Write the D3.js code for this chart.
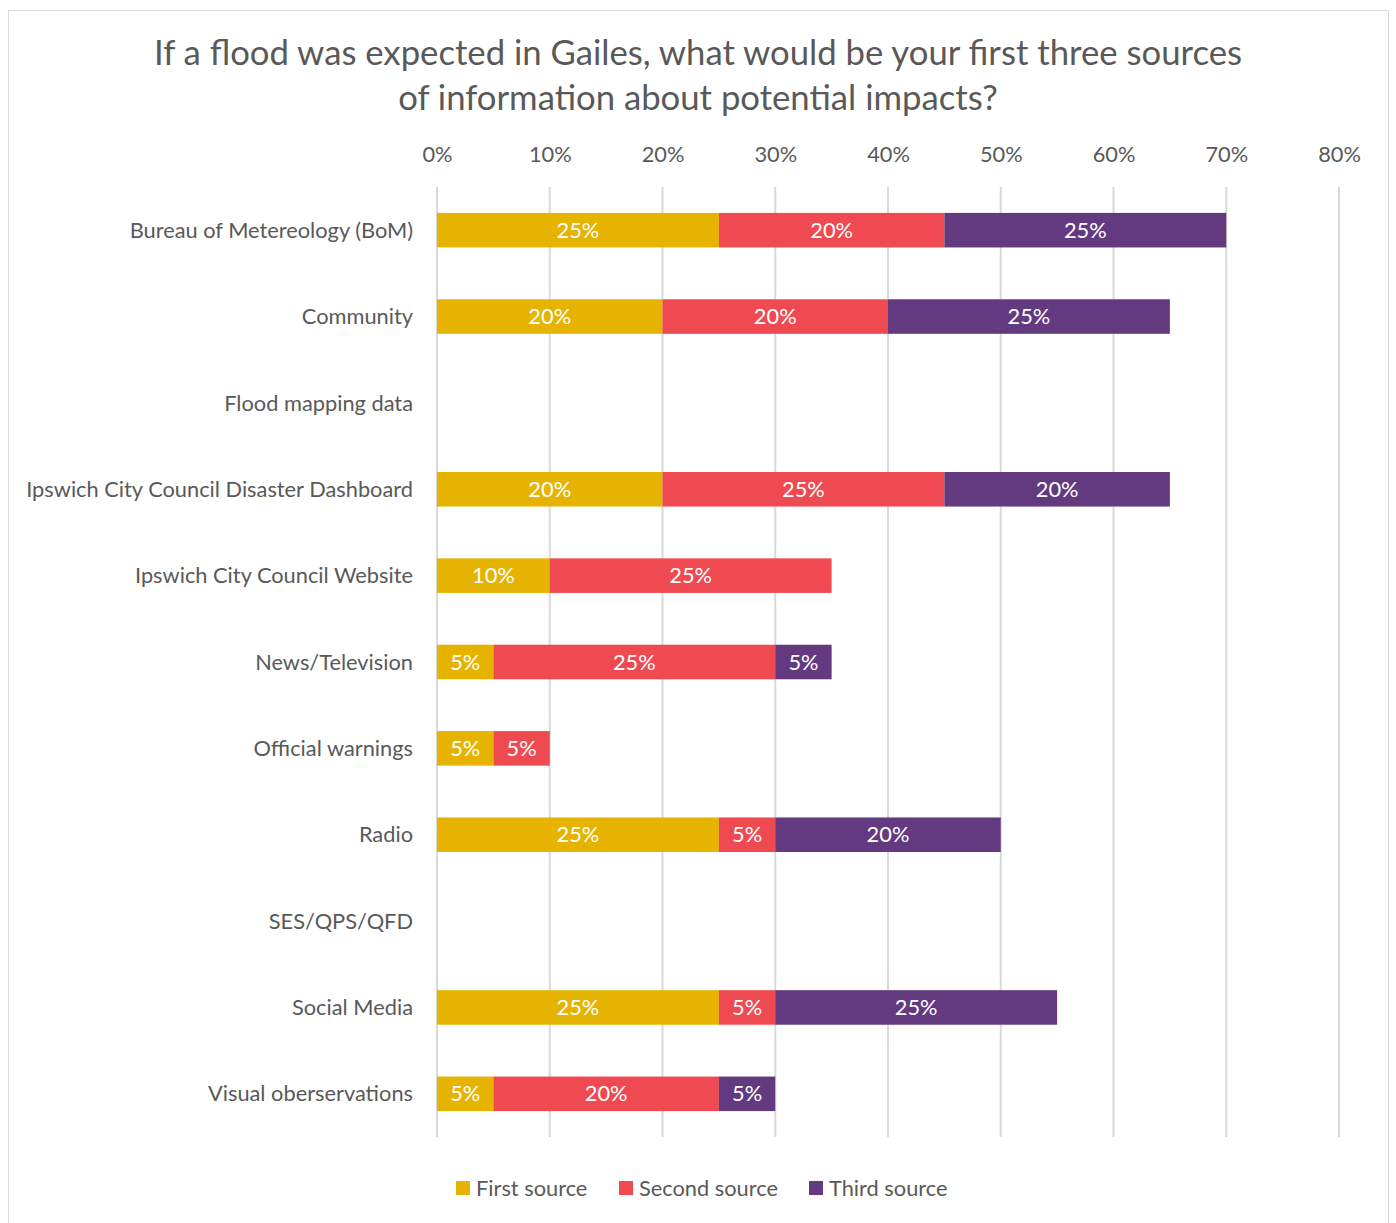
<!DOCTYPE html>
<html>
<head>
<meta charset="utf-8">
<script src="https://cdn.jsdelivr.net/npm/d3@7"></script>
<style>
  body { margin: 0; background: #fff; }
  text { font-family: Lato, "Open Sans", sans-serif; }
</style>
</head>
<body>
<div id="chart"></div>
<script>
var categories = [
  'Bureau of Metereology (BoM)',
  'Community',
  'Flood mapping data',
  'Ipswich City Council Disaster Dashboard',
  'Ipswich City Council Website',
  'News/Television',
  'Official warnings',
  'Radio',
  'SES/QPS/QFD',
  'Social Media',
  'Visual oberservations'
];
var seriesNames = ['First source', 'Second source', 'Third source'];
var firstSource  = [25, 20, 0, 20, 10, 5, 5, 25, 0, 25, 5];
var secondSource = [20, 20, 0, 25, 25, 25, 5, 5, 0, 5, 20];
var thirdSource  = [25, 25, 0, 20, 0, 5, 0, 20, 0, 25, 5];
var tickValues = [0, 10, 20, 30, 40, 50, 60, 70, 80];
var colors = ['#E6B400', '#EF4A51', '#633A80'];
var titleLines = [
  'If a flood was expected in Gailes, what would be your first three sources',
  'of information about potential impacts?'
];

var W = 1396, H = 1223;
var FS = 21.8;
var svg = d3.select('#chart').append('svg').attr('width', W).attr('height', H);

// chart frame
svg.append('rect').attr('x', 8.5).attr('y', 10.5).attr('width', 1380).attr('height', 1230)
   .attr('fill', '#fff').attr('stroke', '#d9d9d9').attr('stroke-width', 1);

var x = d3.scaleLinear().domain([0, 80]).range([437, 1339]);
var y = d3.scaleBand().domain(categories).range([187, 1137]).paddingInner(0.6).paddingOuter(0.3);

// title
svg.append('g').selectAll('text').data(titleLines).enter()
   .append('text')
   .attr('x', 698).attr('y', function(d, i) { return 65 + i * 45; })
   .attr('text-anchor', 'middle')
   .attr('font-size', 34.7).attr('fill', '#595959')
   .text(function(d) { return d; });

// tick labels via axis
var axis = d3.axisTop(x).tickValues(tickValues).tickFormat(function(d) { return d + '%'; })
             .tickSize(0).tickPadding(0);
var ax = svg.append('g').attr('transform', 'translate(0,162)').call(axis);
ax.select('.domain').remove();
ax.selectAll('text').attr('font-size', FS).attr('fill', '#595959')
  .style('font-family', 'Lato, "Open Sans", sans-serif');

// gridlines
svg.append('g').selectAll('line').data(tickValues).enter()
   .append('line')
   .attr('x1', function(d) { return x(d); }).attr('x2', function(d) { return x(d); })
   .attr('y1', 187).attr('y2', 1137)
   .attr('stroke', '#d9d9d9').attr('stroke-width', 2);

// category labels
svg.append('g').selectAll('text').data(categories).enter()
   .append('text')
   .attr('x', 413).attr('y', function(d) { return y(d) + y.bandwidth() / 2; })
   .attr('dy', '0.35em').attr('text-anchor', 'end')
   .attr('font-size', FS).attr('fill', '#595959')
   .text(function(d) { return d; });

// stacked bars
var rows = categories.map(function(c, i) {
  return { cat: c, s0: firstSource[i], s1: secondSource[i], s2: thirdSource[i] };
});
var stack = d3.stack().keys(['s0', 's1', 's2'])(rows);

var layers = svg.append('g').selectAll('g').data(stack).enter()
   .append('g').attr('fill', function(d, i) { return colors[i]; });

layers.selectAll('rect').data(function(d) { return d; }).enter()
   .filter(function(d) { return d[1] - d[0] > 0; })
   .append('rect')
   .attr('x', function(d) { return x(d[0]); })
   .attr('y', function(d) { return y(d.data.cat); })
   .attr('width', function(d) { return x(d[1]) - x(d[0]); })
   .attr('height', y.bandwidth());

layers.selectAll('text').data(function(d) { return d; }).enter()
   .filter(function(d) { return d[1] - d[0] > 0; })
   .append('text')
   .attr('x', function(d) { return (x(d[0]) + x(d[1])) / 2; })
   .attr('y', function(d) { return y(d.data.cat) + y.bandwidth() / 2; })
   .attr('dy', '0.35em').attr('text-anchor', 'middle')
   .attr('font-size', FS).attr('fill', '#fff')
   .text(function(d) { return (d[1] - d[0]) + '%'; });

// legend
var legendX = [456, 619, 809];
var lg = svg.append('g').selectAll('g').data(seriesNames).enter()
   .append('g').attr('transform', function(d, i) { return 'translate(' + legendX[i] + ',1181)'; });
lg.append('rect').attr('width', 14).attr('height', 14)
  .attr('fill', function(d, i) { return colors[i]; });
lg.append('text').attr('x', 20).attr('y', 7).attr('dy', '0.35em')
  .attr('font-size', FS).attr('fill', '#595959')
  .text(function(d) { return d; });
</script>
</body>
</html>
